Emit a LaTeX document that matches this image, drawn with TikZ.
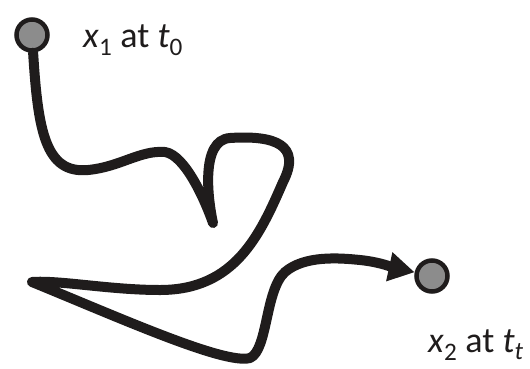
\documentclass[tikz,border=0pt]{standalone}
\usepackage{fontspec}
\setmainfont{Carlito}
\usetikzlibrary{arrows.meta}
\definecolor{mypathcolor}{rgb}{0.12,0.11,0.11}
\definecolor{mydotcolor}{rgb}{0.55,0.55,0.55}

\begin{document}
\begin{tikzpicture}[x=1pt,y=-1pt,
  dot/.style={circle,draw=mypathcolor,fill=mydotcolor,line width=4.5pt,minimum size=31pt,inner sep=0pt},
  lbl/.style={font=\fontsize{36}{38}\selectfont,text=mypathcolor,anchor=west,inner sep=0pt}]
  \useasboundingbox (0,0) rectangle (530,368);
  \node[dot] (start) at (32,35) {};
  \node[dot] (end) at (432,276) {};
  \node[lbl] (startlabel) at (83,40) {\textit{x}\textsubscript{1} at \textit{t}\textsubscript{0}};
  \node[lbl] (endlabel) at (428,345) {\textit{x}\textsubscript{2} at \textit{t}\textsubscript{\textit{t}}};
  \draw[mypathcolor,line width=10pt,line cap=round,line join=round,-{Triangle[length=26pt,width=28pt]}]
    (start) .. controls (38,130) and (45,174) .. (88,170)
    .. controls (120,167) and (140,150) .. (165,152)
    .. controls (185,155) and (205,200) .. (213,223)
    .. controls (208,200) and (200,140) .. (230,138)
    .. controls (275,135) and (302,145) .. (283,182)
    .. controls (260,235) and (235,290) .. (160,290)
    .. controls (110,290) and (60,280) .. (32,282)
    .. controls (120,318) and (225,365) .. (250,358)
    .. controls (268,350) and (265,290) .. (285,272)
    .. controls (305,255) and (340,258) .. (360,260)
    .. controls (380,262) and (395,268) .. (end);
\end{tikzpicture}
\end{document}
